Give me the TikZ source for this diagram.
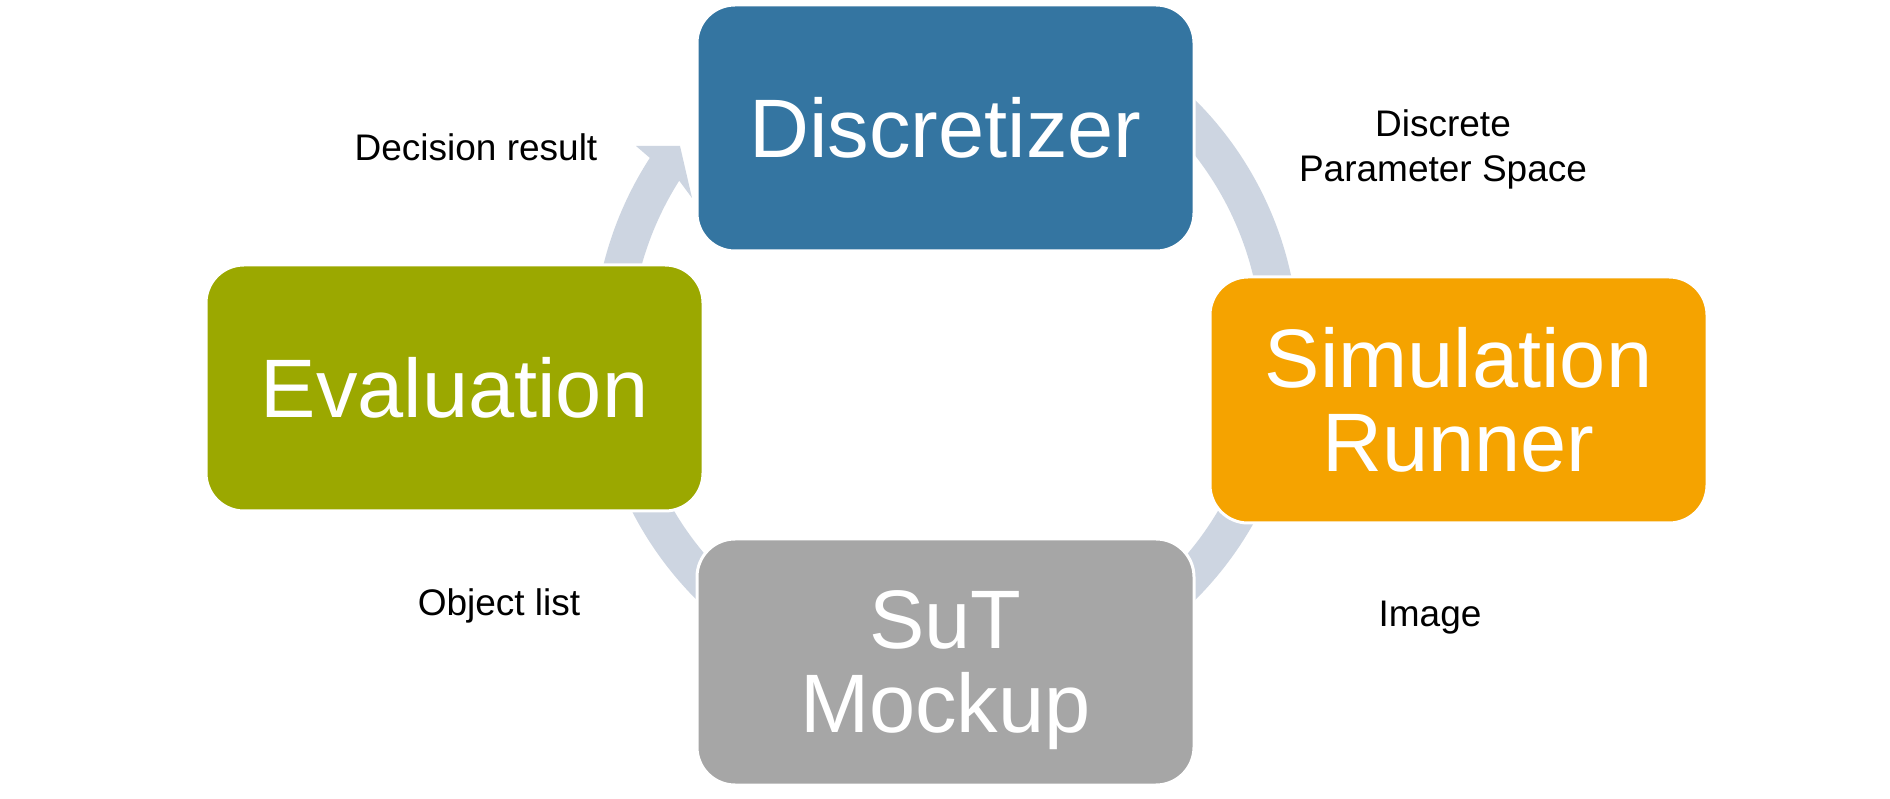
\documentclass[tikz,border=0pt]{standalone}
\usepackage{fontspec}
\setmainfont{Liberation Sans}
\definecolor{ringcol}{RGB}{205,213,225}
\definecolor{cblue}{RGB}{52,117,161}
\definecolor{colive}{RGB}{155,168,0}
\definecolor{corange}{RGB}{245,163,0}
\definecolor{cgray}{RGB}{166,166,166}
\begin{document}
\begin{tikzpicture}[x=0.5pt,y=0.5pt,
  box/.style={rectangle, rounded corners=19pt, minimum width=248.5pt, minimum height=123pt,
    inner sep=0pt, draw=white, line width=1.5pt, text=white, align=center,
    font=\fontsize{41.5}{42}\selectfont},
  lbl/.style={text=black, align=center, inner sep=0pt, font=\fontsize{18.5}{22.5}\selectfont},
  ringarc/.style={draw=ringcol, line width=18.5pt}]
\useasboundingbox (0,0) rectangle (1890,798);
\fill[white] (0,0) rectangle (1890,798);
\begin{scope}[shift={(946,448)}]
  \draw[ringarc] (50:334.5) arc[start angle=50, end angle=-10, radius=334.5];
  \draw[ringarc] (-15:334.5) arc[start angle=-15, end angle=-60, radius=334.5];
  \draw[ringarc] (-120:334.5) arc[start angle=-120, end angle=-170, radius=334.5];
  \fill[ringcol] (180:353) arc[start angle=180, end angle=147.03, radius=353]
    -- (-310,204) -- (-266,204) -- (-254,152)
    -- (147.6:316) arc[start angle=147.6, end angle=180, radius=316] -- cycle;
\end{scope}
\node[box, fill=cblue] (disc) at (945.5,670) {Discretizer};
\node[box, fill=colive] (eval) at (454.5,410) {Evaluation};
\node[box, fill=corange] (sim) at (1458.5,398) {Simulation\\Runner};
\node[box, fill=cgray, text depth=0pt] (sut) at (945.5,136) {SuT\\Mockup};
\node[lbl, anchor=base] (ldec) at (476,637) {Decision result};
\node[lbl, anchor=north] (ldisc) at (1443,688.5) {Discrete\\Parameter Space};
\node[lbl, anchor=base] (lobj) at (499,182) {Object list};
\node[lbl, anchor=base] (limg) at (1430,171) {Image};
\end{tikzpicture}
\end{document}
